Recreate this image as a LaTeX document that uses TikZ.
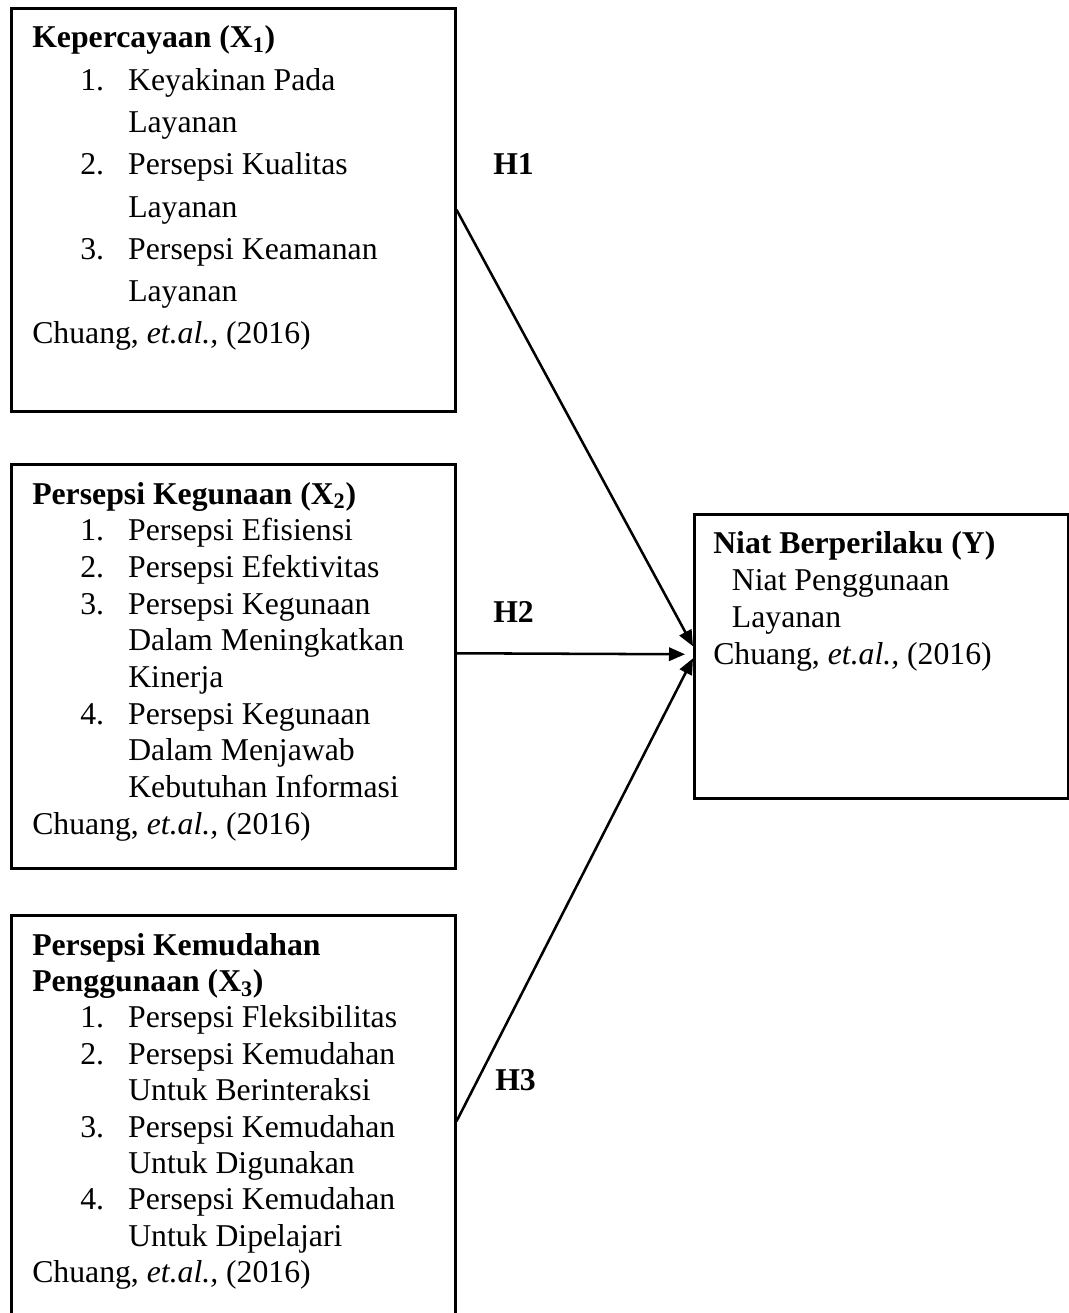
\documentclass[tikz,border=0pt]{standalone}
\usepackage{fontspec}
\setmainfont{Liberation Serif}
\usetikzlibrary{arrows.meta}
% numbered indicator line and its continuation line
\newcommand{\numitem}[2]{\hspace*{36pt}\makebox[36pt][l]{#1}#2}
\newcommand{\numcont}[1]{\hspace*{72pt}#1}
\newcommand{\srcline}{Chuang, \textit{et.al.,} (2016)}
\tikzset{
  varbox/.style={draw, line width=1.9pt, inner sep=0pt, anchor=north west},
  vartext/.style={anchor=base west, inner sep=0pt,
                  font=\fontsize{23.8pt}{#1}\selectfont},
  vartext/.default=27.5pt,
  hyp/.style={anchor=base west, inner sep=0pt,
              font=\fontsize{23.8pt}{27pt}\selectfont\bfseries},
  link/.style={-{Triangle[length=12pt,width=10pt]}, line width=1.9pt},
}

\begin{document}
\begin{tikzpicture}[x=0.75pt, y=-0.75pt]
  \useasboundingbox (0,0) rectangle (1069,1313);
  % variable boxes
  \node[varbox, minimum width=333pt, minimum height=302.25pt] (b1) at (10,7) {};
  \node[varbox, minimum width=333pt, minimum height=303pt] (b2) at (10,463) {};
  \node[varbox, minimum width=333pt, minimum height=309pt] (b3) at (10,914) {};
  \node[varbox, minimum width=280.5pt, minimum height=213pt] (by) at (693,513) {};

  \node[vartext=31.7pt] (t1) at (32,48) {\parbox[t]{320pt}{%
    \textbf{Kepercayaan (X\textsubscript{1})}\\
    \numitem{1.}{Keyakinan Pada}\\
    \numcont{Layanan}\\
    \numitem{2.}{Persepsi Kualitas}\\
    \numcont{Layanan}\\
    \numitem{3.}{Persepsi Keamanan}\\
    \numcont{Layanan}\\
    \srcline}};
  \node[vartext] (t2) at (32,504) {\parbox[t]{320pt}{%
    \textbf{Persepsi Kegunaan (X\textsubscript{2})}\\
    \numitem{1.}{Persepsi Efisiensi}\\
    \numitem{2.}{Persepsi Efektivitas}\\
    \numitem{3.}{Persepsi Kegunaan}\\
    \numcont{Dalam Meningkatkan}\\
    \numcont{Kinerja}\\
    \numitem{4.}{Persepsi Kegunaan}\\
    \numcont{Dalam Menjawab}\\
    \numcont{Kebutuhan Informasi}\\
    \srcline}};
  \node[vartext=27.3pt] (t3) at (32,955) {\parbox[t]{320pt}{%
    \textbf{Persepsi Kemudahan}\\
    \textbf{Penggunaan (X\textsubscript{3})}\\
    \numitem{1.}{Persepsi Fleksibilitas}\\
    \numitem{2.}{Persepsi Kemudahan}\\
    \numcont{Untuk Berinteraksi}\\
    \numitem{3.}{Persepsi Kemudahan}\\
    \numcont{Untuk Digunakan}\\
    \numitem{4.}{Persepsi Kemudahan}\\
    \numcont{Untuk Dipelajari}\\
    \srcline}};
  \node[vartext=27.75pt] (ty) at (713,553) {\parbox[t]{270pt}{%
    \textbf{Niat Berperilaku (Y)}\\
    \hspace*{14pt}Niat Penggunaan\\
    \hspace*{14pt}Layanan\\
    \srcline}};

  % hypotheses
  \draw[link] (b1.east) -- ([yshift=7.5pt]by.west);
  \draw[link] ([yshift=9.75pt]b2.east) -- ([xshift=-6pt,yshift=1.5pt]by.west);
  \draw[link] (b3.east) -- ([yshift=-1.5pt]by.west);
  \node[hyp] (h1) at (493,174) {H1};
  \node[hyp] (h2) at (493,622) {H2};
  \node[hyp] (h3) at (495,1090) {H3};
\end{tikzpicture}
\end{document}
